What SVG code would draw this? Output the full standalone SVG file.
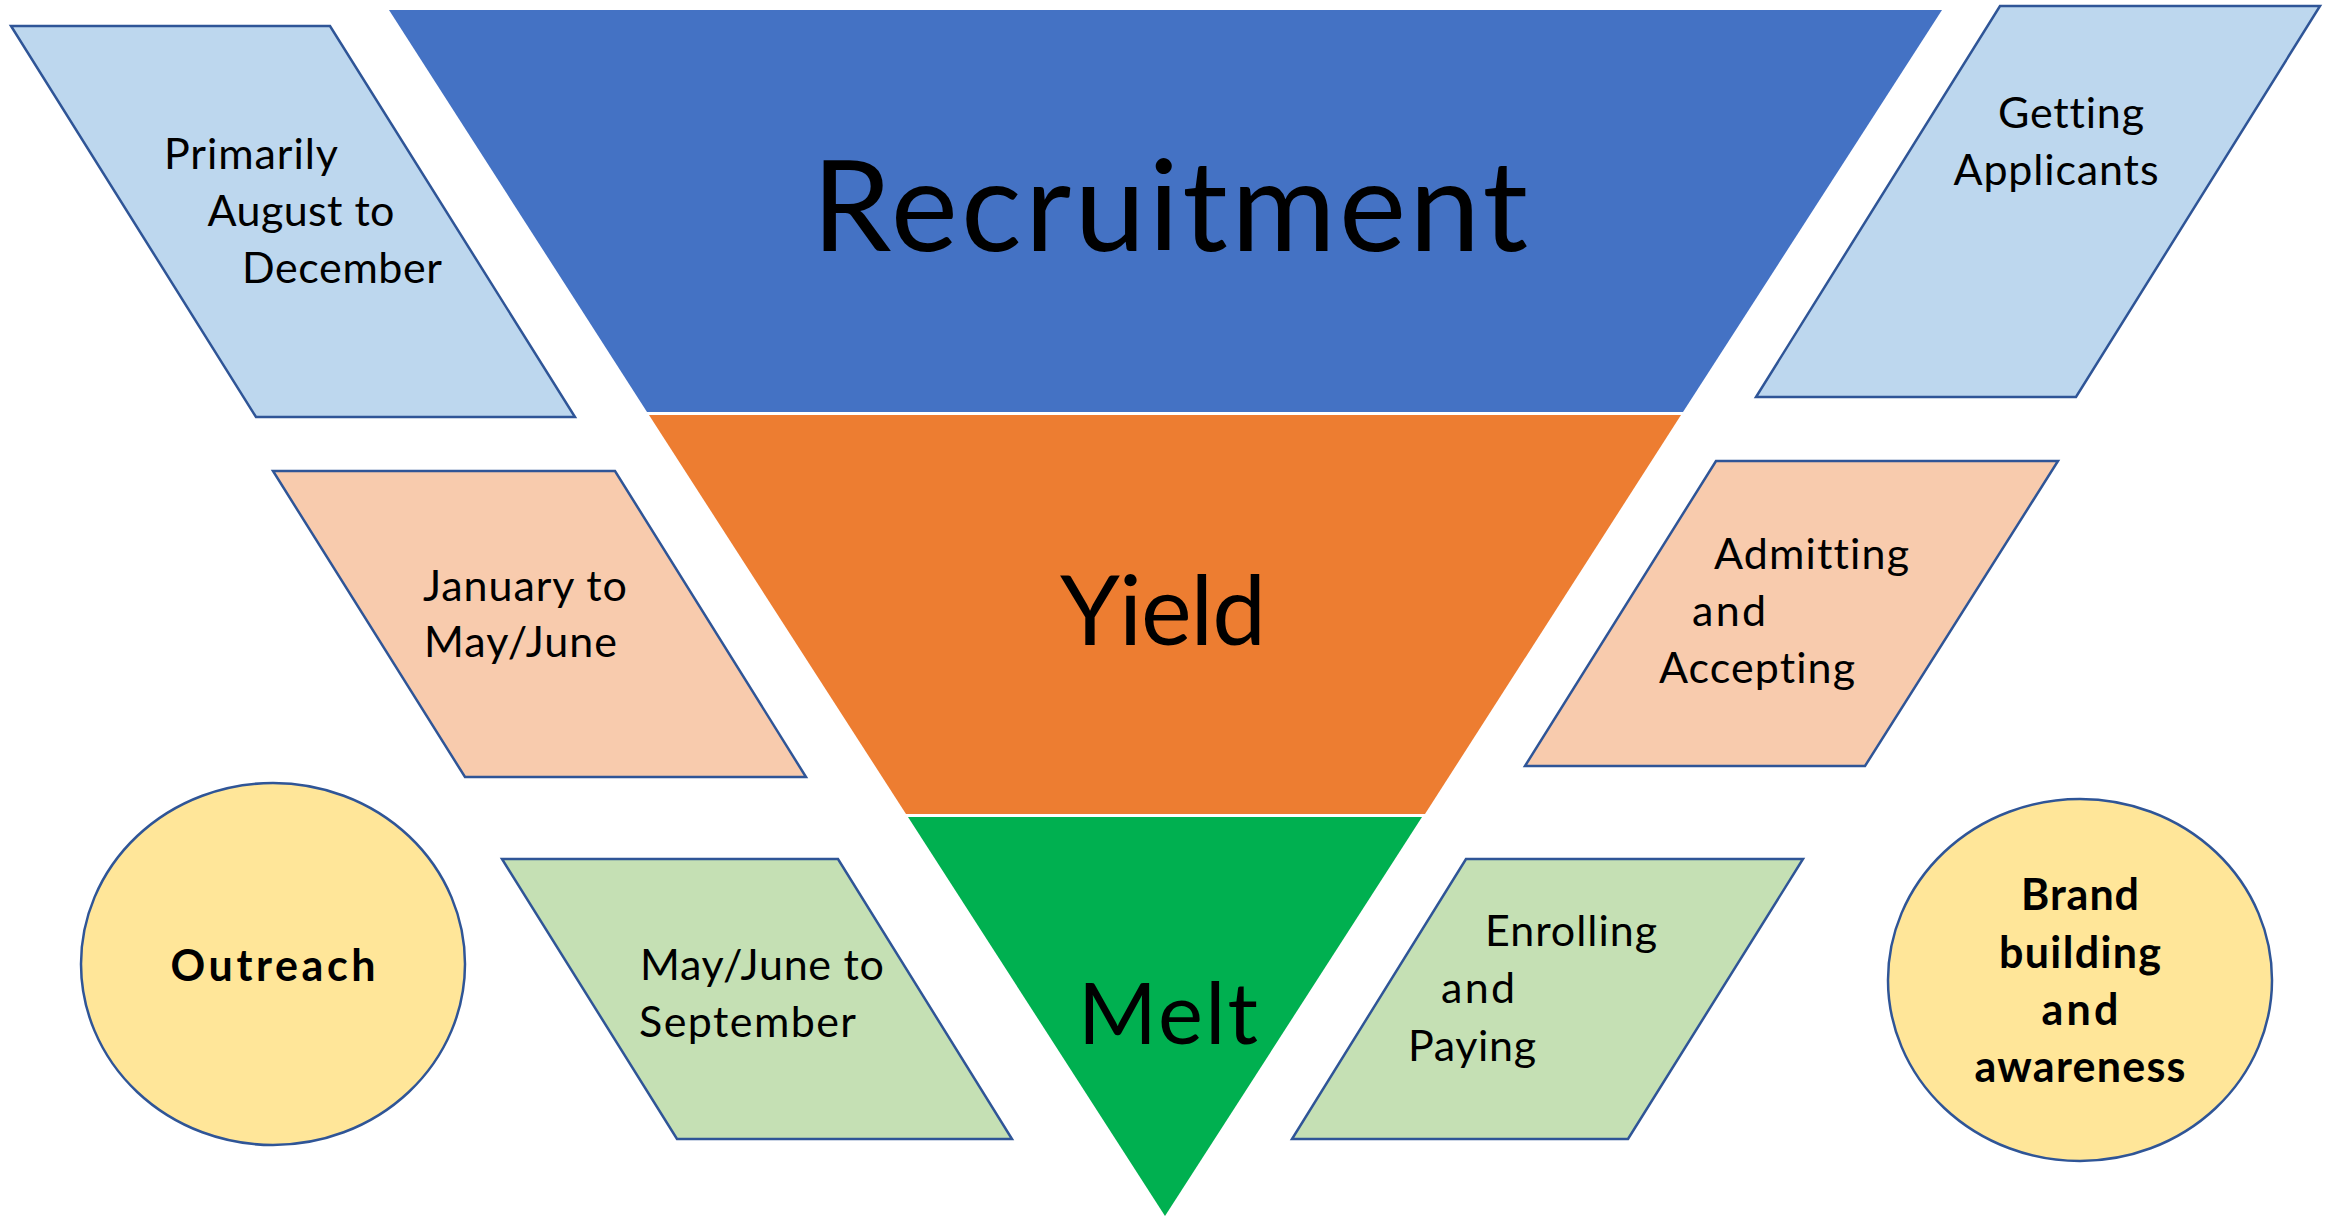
<svg xmlns="http://www.w3.org/2000/svg" width="2330" height="1220" viewBox="0 0 2330 1220">
<style>
text{font-variant-ligatures:none}
.lbl{font-family:Lato,"Open Sans","Liberation Sans",sans-serif;font-size:43px;fill:#000}
.mid{text-anchor:middle}
.bold{font-weight:bold}
.big{font-family:Lato,"Open Sans","Liberation Sans",sans-serif;fill:#000;text-anchor:middle}
.box{stroke:#2F5597;stroke-width:2.5}
.lb{fill:#BDD7EE}
.lo{fill:#F8CBAD}
.lg{fill:#C5E0B4}
.ly{fill:#FFE699}
</style>
<rect width="2330" height="1220" fill="#FFFFFF"/>
<g id="funnel-recruitment">
<polygon points="389,10 1942,10 1683,412 647,412" fill="#4472C4"/>
<text class="big" x="1170" y="251" font-size="127" textLength="716" lengthAdjust="spacing">Recruitment</text>
</g>
<g id="funnel-yield">
<polygon points="649,415 1681,415 1425,814 906,814" fill="#ED7D31"/>
<text class="big" x="1163" y="645" font-size="96" textLength="206" lengthAdjust="spacing">Yield</text>
</g>
<g id="funnel-melt">
<polygon points="908,817 1422,817 1165,1216" fill="#00B050"/>
<text class="big" x="1168" y="1044" font-size="85" textLength="180" lengthAdjust="spacing">Melt</text>
</g>
<g id="recruitment-timing">
<polygon class="box lb" points="11,26 330,26 575,417 256,417"/>
<text class="lbl mid" x="251" y="169" textLength="174" lengthAdjust="spacing">Primarily</text>
<text class="lbl mid" x="301" y="226" textLength="187" lengthAdjust="spacing">August to</text>
<text class="lbl mid" x="342" y="283" textLength="200" lengthAdjust="spacing">December</text>
</g>
<g id="yield-timing">
<polygon class="box lo" points="273,471 615,471 806,777 465,777"/>
<text class="lbl" x="423" y="601" textLength="204" lengthAdjust="spacing">January to</text>
<text class="lbl" x="424" y="657" textLength="193" lengthAdjust="spacing">May/June</text>
</g>
<g id="melt-timing">
<polygon class="box lg" points="502,859 838,859 1012,1139 677,1139"/>
<text class="lbl" x="640" y="980" textLength="244" lengthAdjust="spacing">May/June to</text>
<text class="lbl" x="639" y="1037" textLength="217" lengthAdjust="spacing">September</text>
</g>
<g id="outreach">
<ellipse class="box ly" cx="273" cy="964" rx="192" ry="181"/>
<text class="lbl mid bold" x="273" y="981" font-size="49" textLength="205" lengthAdjust="spacing">Outreach</text>
</g>
<g id="recruitment-goal">
<polygon class="box lb" points="2000,6 2320,6 2076,397 1756,397"/>
<text class="lbl mid" x="2071" y="128" textLength="146" lengthAdjust="spacing">Getting</text>
<text class="lbl mid" x="2056" y="185" textLength="205" lengthAdjust="spacing">Applicants</text>
</g>
<g id="yield-goal">
<polygon class="box lo" points="1716,461 2058,461 1865,766 1525,766"/>
<text class="lbl" x="1714" y="569" textLength="195" lengthAdjust="spacing">Admitting</text>
<text class="lbl" x="1692" y="626" textLength="74" lengthAdjust="spacing">and</text>
<text class="lbl" x="1659" y="683" textLength="196" lengthAdjust="spacing">Accepting</text>
</g>
<g id="melt-goal">
<polygon class="box lg" points="1466,859 1803,859 1628,1139 1292,1139"/>
<text class="lbl" x="1485" y="946" textLength="172" lengthAdjust="spacing">Enrolling</text>
<text class="lbl" x="1441" y="1003" textLength="74" lengthAdjust="spacing">and</text>
<text class="lbl" x="1408" y="1061" textLength="128" lengthAdjust="spacing">Paying</text>
</g>
<g id="brand">
<ellipse class="box ly" cx="2080" cy="980" rx="192" ry="181"/>
<text class="lbl mid bold" x="2080" y="910" textLength="118" lengthAdjust="spacing">Brand</text>
<text class="lbl mid bold" x="2080" y="968" textLength="162" lengthAdjust="spacing">building</text>
<text class="lbl mid bold" x="2080" y="1025" textLength="77" lengthAdjust="spacing">and</text>
<text class="lbl mid bold" x="2080" y="1082" textLength="211" lengthAdjust="spacing">awareness</text>
</g>
<g id="connectors"/>
</svg>
